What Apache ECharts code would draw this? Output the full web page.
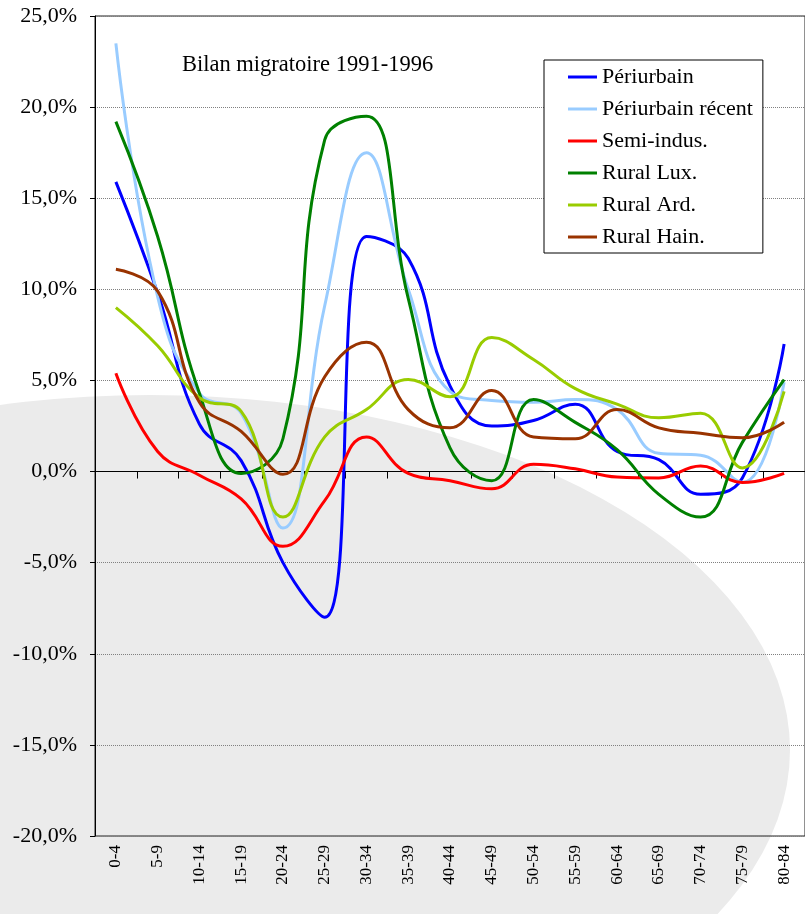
<!DOCTYPE html>
<html>
<head>
<meta charset="utf-8">
<script src="https://cdn.jsdelivr.net/npm/echarts@6/dist/echarts.min.js"></script>
<style>
  html, body { margin: 0; padding: 0; background: #fff; }
  #chart { width: 805px; height: 914px; }
</style>
</head>
<body>
<div id="chart"></div>
<script>
var categories = ['0-4', '5-9', '10-14', '15-19', '20-24', '25-29', '30-34', '35-39', '40-44',
                  '45-49', '50-54', '55-59', '60-64', '65-69', '70-74', '75-79', '80-84'];

var periurbain       = [15.9, 9.8, 2.6, 0.6, -5.0, -8.0, 12.9, 11.7, 4.7, 2.5, 2.8, 3.7, 1.1, 0.65, -1.25, -0.35, 7.0];
var periurbainRecent = [23.5, 9.6, 4.3, 3.2, -3.1, 9.1, 17.5, 10.0, 4.4, 3.9, 3.8, 3.95, 3.4, 1.0, 0.9, -0.6, 4.9];
var semiIndus        = [5.4, 1.1, -0.2, -1.5, -4.1, -1.6, 1.9, -0.1, -0.5, -0.95, 0.4, 0.15, -0.3, -0.35, 0.3, -0.6, -0.1];
var ruralLux         = [19.2, 12.9, 4.3, -0.1, 1.8, 18.2, 19.5, 9.5, 1.3, -0.5, 3.95, 2.7, 1.2, -1.25, -2.5, 1.6, 5.05];
var ruralArd         = [9.0, 6.9, 4.05, 3.3, -2.5, 1.9, 3.4, 5.05, 4.1, 7.35, 6.15, 4.55, 3.7, 2.95, 3.2, 0.2, 4.4];
var ruralHain        = [11.1, 9.9, 3.8, 2.2, -0.15, 5.2, 7.1, 3.4, 2.4, 4.45, 1.9, 1.8, 3.4, 2.4, 2.1, 1.85, 2.7];

var seriesNames = ['Périurbain', 'Périurbain récent', 'Semi-indus.', 'Rural Lux.', 'Rural Ard.', 'Rural Hain.'];
var seriesColors = ['#0000ff', '#99ccff', '#ff0000', '#008000', '#99cc00', '#993300'];
var seriesData = [periurbain, periurbainRecent, semiIndus, ruralLux, ruralArd, ruralHain];

var font = '"Liberation Serif", "Times New Roman", serif';

var myChart = echarts.init(document.getElementById('chart'));

var series = seriesNames.map(function (name, i) {
    return {
        name: name,
        type: 'line',
        xAxisIndex: 0,
        data: seriesData[i],
        smooth: 0.45,
        symbol: 'none',
        lineStyle: { width: 3, color: seriesColors[i] },
        itemStyle: { color: seriesColors[i] }
    };
});

var option = {
    animation: false,
    backgroundColor: '#ffffff',
    textStyle: { fontFamily: font },
    // grey oval behind the plot (chart area fill in the original)
    graphic: [
        {
            type: 'circle',
            silent: true,
            z: -10,
            x: 150,
            y: 750,
            scaleX: 640 / 355,
            shape: { cx: 0, cy: 0, r: 355 },
            style: { fill: '#ebebeb' }
        }
    ],
    title: {
        text: 'Bilan migratoire 1991-1996',
        left: 177,
        top: 49,
        textStyle: { fontFamily: font, fontSize: 22.5, fontWeight: 'normal', color: '#000' }
    },
    legend: {
        data: seriesNames,
        orient: 'vertical',
        left: 544,
        top: 60,
        padding: [6, 10, 5, 24],
        itemGap: 10,
        itemWidth: 29,
        itemHeight: 3,
        icon: 'rect',
        backgroundColor: '#ffffff',
        borderColor: '#000000',
        borderWidth: 1,
        textStyle: { fontFamily: font, fontSize: 22, lineHeight: 22, color: '#000' }
    },
    grid: {
        left: 95,
        top: 16,
        width: 717,
        height: 820,
        show: true,
        borderColor: '#222',
        borderWidth: 1,
        backgroundColor: 'transparent'
    },
    xAxis: [
        {
            type: 'category',
            data: categories,
            boundaryGap: true,
            axisLine: { onZero: true, lineStyle: { color: '#000', width: 1 } },
            axisTick: { show: true, length: 7, lineStyle: { color: '#000' } },
            axisLabel: { show: false },
            splitLine: { show: false }
        },
        {
            type: 'category',
            data: categories,
            boundaryGap: true,
            position: 'bottom',
            axisLine: { show: false, onZero: false },
            axisTick: { show: false },
            axisLabel: {
                rotate: 90,
                margin: 9,
                interval: 0,
                fontFamily: font,
                fontSize: 17,
                color: '#000'
            },
            splitLine: { show: false }
        }
    ],
    yAxis: {
        type: 'value',
        min: -20,
        max: 25,
        interval: 5,
        axisLine: { show: true, lineStyle: { color: '#000', width: 1 } },
        axisTick: { show: true, length: 5, lineStyle: { color: '#000' } },
        axisLabel: {
            margin: 18,
            fontFamily: font,
            fontSize: 22,
            color: '#000',
            formatter: function (v) {
                return v.toFixed(1).replace('.', ',') + '%';
            }
        },
        splitLine: { show: true, lineStyle: { color: '#808080', type: 'dotted', width: 1 } }
    },
    series: series
};

myChart.setOption(option);
</script>
</body>
</html>
